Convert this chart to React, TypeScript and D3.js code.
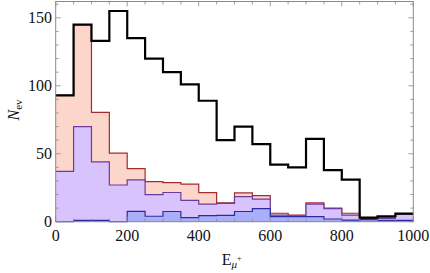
import React from 'react';
import * as d3 from 'd3';

// bin edges every 50, from 0 to 1000
const binEdges = d3.range(0, 1001, 50);

// histogram heights per bin
const totalCounts = [93, 145, 133, 155, 135, 120, 110, 101, 89, 60, 70, 57, 42, 40, 61, 38, 31, 3, 4, 6];
const redCounts = [93, 145, 80.5, 50.5, 39, 29.5, 28.7, 27.7, 21.4, 13.8, 21.2, 19.2, 6.2, 4.8, 13.8, 10, 6.2, 2.5, 3, 5.5];
const purpleCounts = [37, 70, 44, 27, 30.7, 19.9, 21.5, 15.7, 13, 13.5, 18.5, 16.6, 4.9, 4.3, 13, 9.6, 4.9, 2, 2.5, 5.5];
const blueCounts = [0, 1, 1, 0, 7.6, 4, 7.5, 3, 4.4, 4.6, 7.5, 9.6, 3.7, 3.7, 3.7, 2, 1.2, 1.5, 1, 1];

const xTicks = [0, 200, 400, 600, 800, 1000];
const yTicks = [0, 50, 100, 150];

const W = 430;
const H = 273;
const left = 55.7, right = 413.3, top = 1.5, bottom = 221.7;

const x = d3.scaleLinear().domain([0, 1000]).range([left, right]);
const y = d3.scaleLinear().domain([0, 162]).range([bottom, top]);

const toPoints = (vals: number[]) => {
  const pts: [number, number][] = vals.map((v, i) => [binEdges[i], v]);
  pts.push([binEdges[vals.length], vals[vals.length - 1]]);
  return pts;
};

const stepLine = d3.line<[number, number]>()
  .x(d => x(d[0]))
  .y(d => y(d[1]))
  .curve(d3.curveStepAfter);

const stepArea = d3.area<[number, number]>()
  .x(d => x(d[0]))
  .y0(y(0))
  .y1(d => y(d[1]))
  .curve(d3.curveStepAfter);

const layers = [
  { vals: redCounts, fill: '#fdd6cb', stroke: '#a52a2e' },
  { vals: purpleCounts, fill: '#d8c3fc', stroke: '#6b3c9e' },
  { vals: blueCounts, fill: '#a9aff8', stroke: '#2c2c9c' },
];

const serif = { fontFamily: '"Liberation Serif"' };

const App = () => {
  const minorX = d3.range(0, 1001, 50);
  const minorY = d3.range(0, 161, 10);
  const tickColor = '#8a8a8a';
  return (
    <svg width={W} height={H} style={{ position: 'absolute', left: 0, top: 0, background: '#fff' }}>
      {layers.map((l, i) => (
        <g key={i}>
          <path d={stepArea(toPoints(l.vals)) || ''} fill={l.fill} />
          <path d={stepLine(toPoints(l.vals)) || ''} fill="none" stroke={l.stroke} strokeWidth={1.2} />
        </g>
      ))}
      <path d={stepLine(toPoints(totalCounts)) || ''} fill="none" stroke="#000" strokeWidth={2.2} />

      {/* frame */}
      <rect x={left} y={top} width={right - left} height={bottom - top} fill="none" stroke={tickColor} strokeWidth={1} />
      {minorX.map(v => {
        const len = v % 200 === 0 ? 5 : 3;
        return (
          <g key={'x' + v} stroke={tickColor} strokeWidth={0.8}>
            <line x1={x(v)} x2={x(v)} y1={bottom} y2={bottom - len} />
            <line x1={x(v)} x2={x(v)} y1={top} y2={top + len} />
          </g>
        );
      })}
      {minorY.map(v => {
        const len = v % 50 === 0 ? 5 : 3;
        return (
          <g key={'y' + v} stroke={tickColor} strokeWidth={0.8}>
            <line x1={left} x2={left + len} y1={y(v)} y2={y(v)} />
            <line x1={right} x2={right - len} y1={y(v)} y2={y(v)} />
          </g>
        );
      })}

      {xTicks.map(v => (
        <text key={'xl' + v} x={x(v)} y={241} textAnchor="middle" fontSize={16} fill="#111" style={serif}>{v}</text>
      ))}
      {yTicks.map(v => (
        <text key={'yl' + v} x={52} y={y(v)} dy="0.35em" textAnchor="end" fontSize={16} fill="#111" style={serif}>{v}</text>
      ))}

      <text x={221.7} y={265} fontSize={16} fill="#111" style={serif}>
        E
        <tspan fontSize={11} fontStyle="italic" dy={3}>μ</tspan>
        <tspan fontSize={8} dy={-7}>+</tspan>
      </text>
      <text transform="translate(19,110) rotate(-90)" textAnchor="middle" fontSize={16} fill="#111" style={serif}>
        <tspan fontStyle="italic">N</tspan>
        <tspan fontSize={11} dy={3}>ev</tspan>
      </text>
    </svg>
  );
};

export default App;
